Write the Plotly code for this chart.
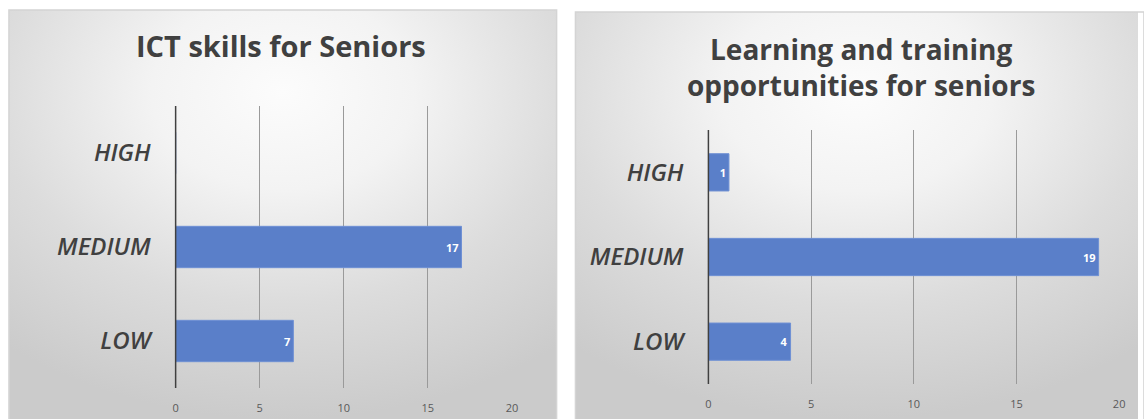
import plotly.graph_objects as go

categories = ["LOW", "MEDIUM", "HIGH"]
ict_values = [7, 17, 0]
learning_values = [4, 19, 1]
x_ticks = [0, 5, 10, 15, 20]
title_left = "ICT skills for Seniors"
title_right = "Learning and training<br>opportunities for seniors"

W, H = 1144, 419
BAR = "#5a7fc9"
TXT = "#404040"
FONT = "Open Sans"

def px(x):
    return x / W

def py(y):
    return 1 - y / H

fig = go.Figure()

# panel backgrounds (radial gradient) on hidden axes
panels = [(6, 558, 10, 419, "x", "y"), (577, 1150, 12, 419, "x2", "y2")]
for (x0, x1, y0, y1, xa, ya) in panels:
    fig.add_trace(go.Scatter(
        x=[-0.3, 1.3, 1.3, -0.3, -0.3], y=[0, 0, 1.6, 1.6, 0], mode="lines", fill="toself",
        line=dict(width=0), hoverinfo="skip", showlegend=False,
        fillgradient=dict(type="radial",
                          colorscale=[[0, "#fcfcfc"], [0.3, "#f3f3f3"], [0.65, "#dcdcdc"],
                                      [1, "#cbcbcb"]]),
        xaxis=xa, yaxis=ya))

common_x = dict(range=[0, 20], tickvals=x_ticks, showgrid=True, gridcolor="#9a9a9a",
                gridwidth=1, zeroline=False, showline=False,
                tickfont=dict(family=FONT, size=11, color="#595959"),
                ticklabelstandoff=12, fixedrange=True)
common_y = dict(categoryorder="array", categoryarray=categories, showgrid=False,
                zeroline=False, showline=False,
                tickfont=dict(family=FONT, size=24, color=TXT, style="italic", weight=600),
                ticklabelstandoff=24, fixedrange=True)

for vals, xa, ya, w in [(ict_values, "x3", "y3", 0.44), (learning_values, "x4", "y4", 0.44)]:
    fig.add_trace(go.Bar(
        y=categories, x=vals, orientation="h", width=w,
        marker=dict(color=BAR, line=dict(color="#6f90d4", width=1)),
        text=[str(v) if v > 0 else "" for v in vals],
        textposition="inside", insidetextanchor="end", constraintext="none",
        textfont=dict(family=FONT, size=11, color="white", weight="bold"),
        showlegend=False, xaxis=xa, yaxis=ya, cliponaxis=False))

hidden = dict(visible=False, range=[0, 1], fixedrange=True)
fig.update_layout(
    width=W, height=H, margin=dict(l=0, r=0, t=0, b=0),
    paper_bgcolor="white", plot_bgcolor="rgba(0,0,0,0)",
    xaxis=dict(domain=[px(6), px(558)], **hidden),
    yaxis=dict(domain=[0, py(10)], **hidden),
    xaxis2=dict(domain=[px(577), 1], **hidden),
    yaxis2=dict(domain=[0, py(12)], **hidden),
    xaxis3=dict(domain=[px(174), px(513)], anchor="y3", **common_x),
    yaxis3=dict(domain=[py(388), py(106)], anchor="x3", **common_y),
    xaxis4=dict(domain=[px(711), px(1125)], anchor="y4", **common_x),
    yaxis4=dict(domain=[py(384), py(130)], anchor="x4", **common_y),
    showlegend=False,
)

# y axis (zero) lines
for (xx, ya0, ya1) in [(174, 106, 388), (711, 130, 384)]:
    fig.add_shape(type="line", xref="paper", yref="paper", x0=px(xx), x1=px(xx),
                  y0=py(ya0), y1=py(ya1), line=dict(color="#404040", width=1.5))

# panel borders
for (x0, x1, y0, y1, _, _) in panels:
    fig.add_shape(type="rect", xref="paper", yref="paper", x0=px(x0), x1=px(x1),
                  y0=py(y1) - 0.01, y1=py(y0), line=dict(color="#d4d4d4", width=1.5),
                  fillcolor="rgba(0,0,0,0)")

fig.add_annotation(text=title_left, xref="paper", yref="paper", x=px(280), y=py(45),
                   xanchor="center", yanchor="middle", showarrow=False,
                   font=dict(family=FONT, size=29, color=TXT, weight="bold"))
fig.add_annotation(text=title_right, xref="paper", yref="paper", x=px(865), y=py(67),
                   xanchor="center", yanchor="middle", showarrow=False, align="center",
                   font=dict(family=FONT, size=28, color=TXT, weight="bold"))

fig.write_html("out.html", config={"displayModeBar": False},
               post_script="document.body.style.margin='0';document.body.style.overflow='hidden';")
